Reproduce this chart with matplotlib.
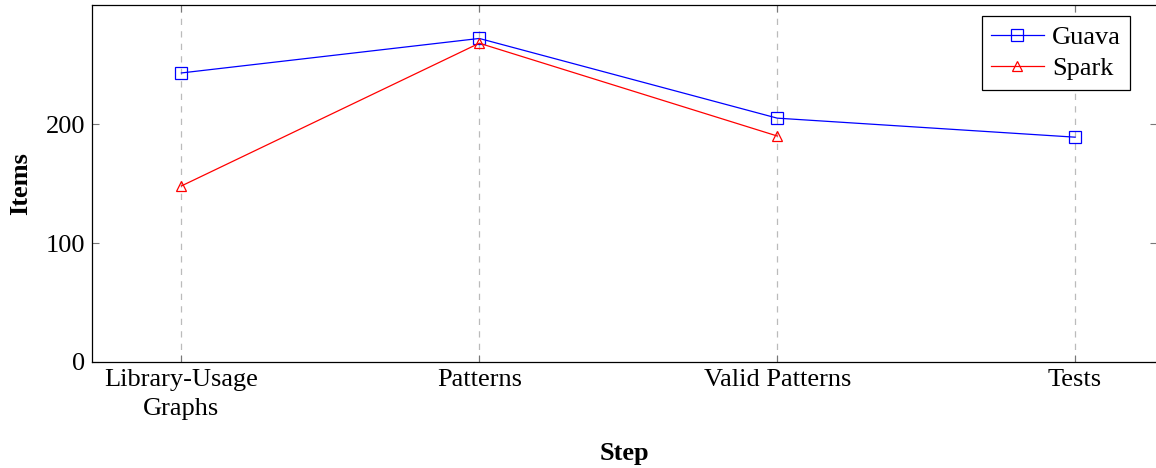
import matplotlib
matplotlib.use("Agg")
import matplotlib.pyplot as plt

# data
steps = ["Library-Usage\nGraphs", "Patterns", "Valid Patterns", "Tests"]
guava = [243, 272, 205, 189]
spark = [148, 268, 190]
y_ticks = [0, 100, 200]

plt.rcParams['font.family'] = ['Liberation Serif', 'DejaVu Serif']
plt.rcParams['font.size'] = 19

fig = plt.figure(figsize=(11.56, 4.68), dpi=100)
ax = fig.add_axes([0.0796, 0.2265, 0.9213, 0.7625])

x = list(range(len(steps)))
ax.plot(x, guava, color='#0000ff', lw=0.9, marker='s', ms=9, mfc='none',
        mec='#0000ff', mew=0.9, label='Guava')
ax.plot(x[:len(spark)], spark, color='#ff0000', lw=0.9, marker='^', ms=7,
        mfc='none', mec='#ff0000', mew=0.9, label='Spark')

ax.set_xlim(-0.3, 3.275)
ax.set_ylim(0, 300)
ax.set_xticks(x)
ax.set_xticklabels(steps, linespacing=1.4)
ax.set_yticks(y_ticks)

ax.grid(axis='x', color='#bbbbbb', linestyle=(0, (5, 5)), lw=0.9)
ax.tick_params(direction='in', top=True, right=True, length=5,
               color='#777777', labelsize=19, pad=5)
for s in ax.spines.values():
    s.set_linewidth(0.9)

ax.set_xlabel("Step", fontweight='bold', fontsize=19, labelpad=16)
ax.set_ylabel("Items", fontweight='bold', fontsize=19, labelpad=10)

leg = ax.legend(loc='upper right', bbox_to_anchor=(0.9745, 0.969), fontsize=19,
                fancybox=False, edgecolor='black', framealpha=1,
                handlelength=2.0, borderpad=0.35, labelspacing=0.3,
                handletextpad=0.3, borderaxespad=0)
leg.get_frame().set_linewidth(0.9)

fig.savefig("out.png", dpi=100)
